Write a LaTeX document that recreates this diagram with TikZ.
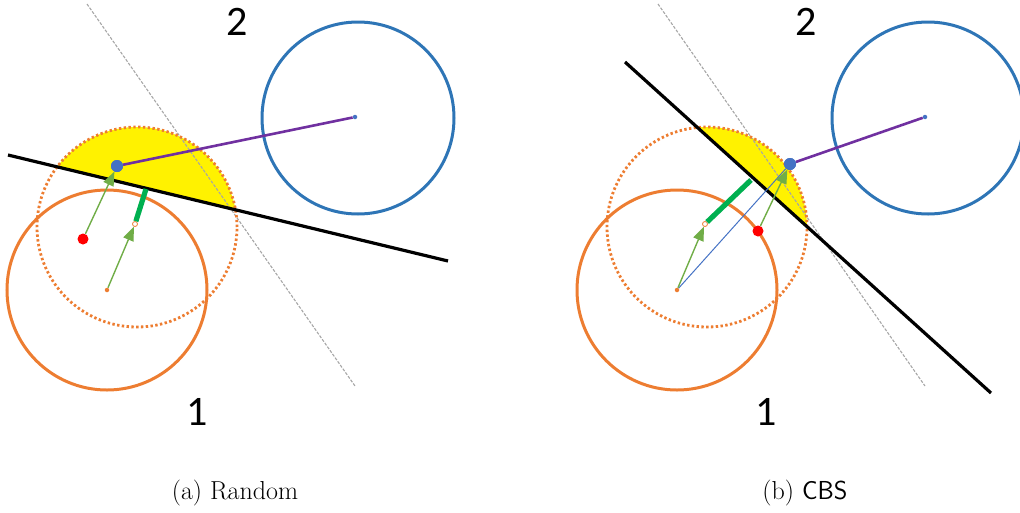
\documentclass[tikz,border=0pt]{standalone}
\usepackage{fontspec}
\newfontfamily\numfont{Carlito}
\usetikzlibrary{arrows.meta, positioning}
\definecolor{myorange}{HTML}{ED7D31}
\definecolor{myblue}{HTML}{2E75B6}
\definecolor{mydotblue}{HTML}{4472C4}
\definecolor{mypurple}{HTML}{7030A0}
\definecolor{mygreen}{HTML}{70AD47}
\definecolor{mydarkgreen}{HTML}{00B050}
\tikzset{
  % cerchi
  circ one/.style={draw=myorange,line width=3pt},
  circ two/.style={draw=myblue,line width=3pt},
  circ dot/.style={draw=myorange,line width=2.8pt,dash pattern=on 2.4pt off 2.4pt},
  % linee
  sep line/.style={black,line width=3.2pt},
  guide/.style={gray!70,line width=1.1pt,dash pattern=on 3pt off 1.5pt},
  connect/.style={mypurple,line width=2.6pt},
  connect arrow/.style={-{Triangle[length=14,width=11]},mygreen,line width=1.4pt},
  step green/.style={mydarkgreen,line width=5.2pt},
  thin blue/.style={mydotblue,line width=1pt},
  % punti
  pt blue/.style={circle,fill=mydotblue,minimum size=12pt,inner sep=0},
  pt red/.style={circle,fill=red,minimum size=11pt,inner sep=0},
  pt small/.style={circle,fill=#1,minimum size=4.5pt,inner sep=0},
  pt open/.style={circle,draw=myorange,fill=white,line width=0.8pt,minimum size=5pt,inner sep=0},
  lbl/.style={font=\numfont\fontsize{42}{46}\selectfont},
  caption txt/.style={font=\fontsize{26}{30}\selectfont}
}
\begin{document}
\begin{tikzpicture}[x=1pt,y=-1pt]
  \useasboundingbox (0,0) rectangle (1020,512);
  % (a) Random
  \coordinate (ca) at (137,227);
  \coordinate (la1) at (8,155);
  \coordinate (la2) at (448,261);
  \begin{scope}
    \clip (ca) circle[radius=100pt];
    \fill[yellow] (la1) -- (la2) -- (448,100) -- (8,100) -- cycle;
  \end{scope}
  \draw[guide] (87,4) -- (355,386);
  \draw[circ dot] (ca) circle[radius=100pt];
  \draw[circ one] (107,290) circle[radius=100pt];
  \draw[circ two] (358,118) circle[radius=96pt];
  \draw[sep line] (la1) -- (la2);
  \node[pt small=myorange] (oa) at (107,290) {};
  \node[pt small=mydotblue] (da) at (355,117) {};
  \node[pt blue] (ba) at (117,166) {};
  \node[pt red] (ra) at (83,239) {};
  \node[pt open] (pa) at (135,224) {};
  \coordinate (ga) at (146,189);
  \draw[step green] (pa) -- (ga);
  \draw[connect arrow] (ra) -- (ba);
  \draw[connect arrow] (oa) -- (pa);
  \draw[connect] (ba) -- (da);
  \node[pt blue] at (ba) {};
  \node[lbl] (twoa) at (237,22) {2};
  \node[lbl] (onea) at (197,412) {1};
  \node[caption txt] (capa) at (235,493) {(a) Random};
  % (b) CBS
  \coordinate (cb) at (707,227);
  \coordinate (lb1) at (625,62);
  \coordinate (lb2) at (991,393);
  \begin{scope}
    \clip (cb) circle[radius=100pt];
    \fill[yellow] (lb1) -- (lb2) -- (991,62) -- cycle;
  \end{scope}
  \draw[guide] (658,4) -- (925,386);
  \draw[circ dot] (cb) circle[radius=100pt];
  \draw[circ one] (677,290) circle[radius=100pt];
  \draw[circ two] (928,118) circle[radius=96pt];
  \draw[sep line] (lb1) -- (lb2);
  \node[pt small=myorange] (ob) at (677,290) {};
  \node[pt small=mydotblue] (db) at (925,117) {};
  \node[pt blue] (bb) at (790,164) {};
  \node[pt red] (rb) at (758,231) {};
  \node[pt open] (pb) at (705,224) {};
  \coordinate (gb) at (751,180);
  \draw[thin blue] (ob) -- (bb);
  \draw[step green] (pb) -- (gb);
  \draw[connect arrow] (rb) -- (bb);
  \draw[connect arrow] (ob) -- (pb);
  \draw[connect] (bb) -- (db);
  \node[pt blue] at (bb) {};
  \node[lbl] (twob) at (806,22) {2};
  \node[lbl] (oneb) at (766,412) {1};
  \node[caption txt] (capb) at (805,493) {(b) \textsf{CBS}};
\end{tikzpicture}
\end{document}
